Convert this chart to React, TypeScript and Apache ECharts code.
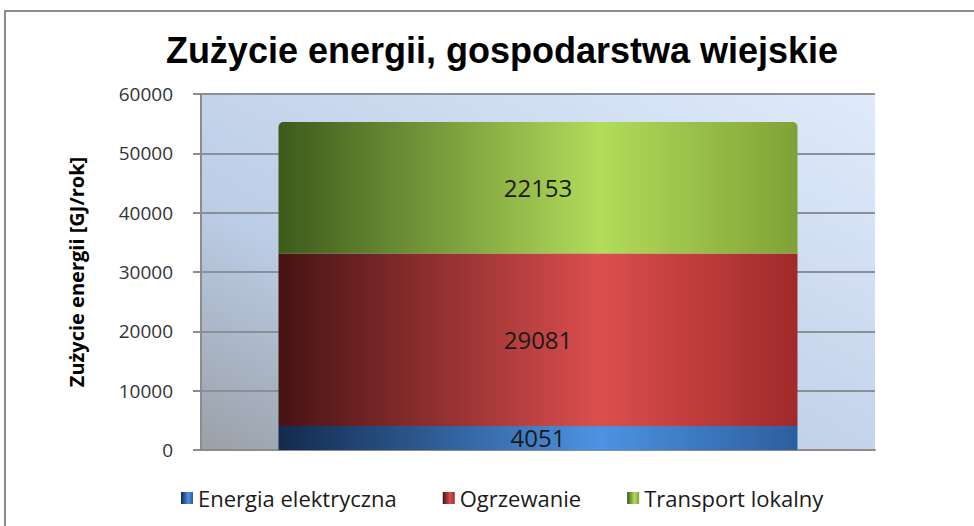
import React, { useEffect, useRef } from "react";
import * as echarts from "echarts";

const categories = ["Gospodarstwa wiejskie"];
const seriesNames = ["Energia elektryczna", "Ogrzewanie", "Transport lokalny"];
const energiaElektryczna = [4051];
const ogrzewanie = [29081];
const transportLokalny = [22153];
const titleText = "Zużycie energii, gospodarstwa wiejskie";
const yAxisName = "Zużycie energii [GJ/rok]";

const grad = (c0: string, c1: string, c2: string) =>
  new echarts.graphic.LinearGradient(0, 0, 1, 0, [
    { offset: 0, color: c0 },
    { offset: 0.62, color: c1 },
    { offset: 1, color: c2 },
  ]);

export default function App() {
  const ref = useRef<HTMLDivElement>(null);
  useEffect(() => {
    document.body.style.margin = "0";
    const chart = echarts.init(ref.current!, null, { renderer: "svg" });
    const labelStyle = {
      show: true,
      position: "inside" as const,
      color: "#1a1a1a",
      fontFamily: "Open Sans",
      fontSize: 24,
    };
    chart.setOption({
      animation: false,
      backgroundColor: "#ffffff",
      title: {
        text: titleText,
        left: 497,
        top: 27,
        textAlign: "center",
        textStyle: {
          fontFamily: "Liberation Sans",
          fontWeight: "bold",
          fontSize: 36,
          color: "#000000",
        },
      },
      graphic: [
        {
          type: "rect",
          shape: { x: 5, y: 11, width: 1000, height: 600 },
          style: { fill: "none", stroke: "#8c8c8c", lineWidth: 2 },
          silent: true,
        },
      ],
      legend: {
        data: seriesNames,
        left: 176,
        top: 482,
        width: 780,
        icon: "rect",
        itemWidth: 12,
        itemHeight: 12,
        itemGap: 46,
        textStyle: { fontFamily: "Open Sans", fontSize: 22, color: "#1a1a1a" },
      },
      grid: {
        left: 201,
        right: 99,
        top: 94,
        bottom: 76,
        show: true,
        borderWidth: 0,
        backgroundColor: new echarts.graphic.LinearGradient(0, 1, 1, 0, [
          { offset: 0, color: "#9aa0a8" },
          { offset: 0.35, color: "#bccde6" },
          { offset: 1, color: "#e0eafb" },
        ]),
      },
      xAxis: {
        type: "category",
        data: categories,
        axisLabel: { show: false },
        axisTick: { show: false },
        axisLine: { lineStyle: { color: "#8c8c8c", width: 2 } },
      },
      yAxis: {
        type: "value",
        min: 0,
        max: 60000,
        interval: 10000,
        name: yAxisName,
        nameLocation: "middle",
        nameGap: 115,
        nameTextStyle: {
          fontFamily: "Open Sans",
          fontWeight: "bold",
          fontSize: 20,
          color: "#000000",
        },
        axisLine: { show: true, lineStyle: { color: "#8c8c8c", width: 2 } },
        axisTick: { show: true, length: 8, lineStyle: { color: "#8c8c8c", width: 2 } },
        axisLabel: {
          margin: 28,
          fontFamily: "Open Sans",
          fontSize: 19,
          color: "#333333",
          formatter: (v: number) => String(v),
        },
        splitLine: { lineStyle: { color: "#8a8f98", width: 2 } },
      },
      series: [
        {
          name: seriesNames[0],
          type: "bar",
          stack: "total",
          barWidth: "77%",
          data: energiaElektryczna,
          itemStyle: { color: grad("#132a4d", "#4d93e2", "#2c5e9e") },
          label: labelStyle,
        },
        {
          name: seriesNames[1],
          type: "bar",
          stack: "total",
          barWidth: "77%",
          data: ogrzewanie,
          itemStyle: { color: grad("#461313", "#dc4e4e", "#a02a2a") },
          label: labelStyle,
        },
        {
          name: seriesNames[2],
          type: "bar",
          stack: "total",
          barWidth: "77%",
          data: transportLokalny,
          itemStyle: {
            color: grad("#3d5a1c", "#b2dc5a", "#7fa236"),
            borderRadius: [5, 5, 0, 0],
          },
          label: labelStyle,
        },
      ],
    });
    return () => chart.dispose();
  }, []);
  return <div ref={ref} style={{ width: 974, height: 526 }} />;
}
